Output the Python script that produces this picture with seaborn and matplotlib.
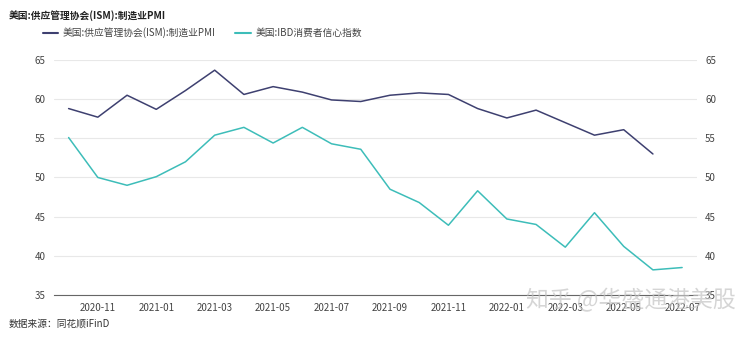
import matplotlib
matplotlib.use("Agg")
import matplotlib.pyplot as plt
import seaborn as sns
import pandas as pd

months = ["2020-10", "2020-11", "2020-12", "2021-01", "2021-02", "2021-03", "2021-04",
          "2021-05", "2021-06", "2021-07", "2021-08", "2021-09", "2021-10", "2021-11",
          "2021-12", "2022-01", "2022-02", "2022-03", "2022-04", "2022-05", "2022-06",
          "2022-07"]
pmi = [58.8, 57.7, 60.5, 58.7, 61.1, 63.7, 60.6, 61.6, 60.9, 59.9, 59.7, 60.5,
       60.8, 60.6, 58.8, 57.6, 58.6, 57.0, 55.4, 56.1, 53.0, None]
ibd = [55.1, 50.0, 49.0, 50.1, 52.0, 55.4, 56.4, 54.4, 56.4, 54.3, 53.6, 48.5,
       46.8, 43.9, 48.3, 44.7, 44.0, 41.1, 45.5, 41.2, 38.2, 38.5]
y_ticks = [35, 40, 45, 50, 55, 60, 65]

name_pmi = "美国:供应管理协会(ISM):制造业PMI"
name_ibd = "美国:IBD消费者信心指数"
title = "美国:供应管理协会(ISM):制造业PMI"
source = "数据来源：同花顺iFinD"
watermark = "知乎 @华盛通港美股"

df = pd.DataFrame({"idx": range(len(months)), "month": months,
                   name_pmi: pmi, name_ibd: ibd})
long = df.melt(id_vars=["idx", "month"], value_vars=[name_pmi, name_ibd],
               var_name="series", value_name="value").dropna()

sns.set_theme(style="white")
plt.rcParams['font.family'] = ['Noto Sans CJK SC', 'DejaVu Sans']

fig = plt.figure(figsize=(7.5, 3.39), dpi=100)
ax = fig.add_axes([0.072, 0.13, 0.857, 0.693])

palette = {name_pmi: "#3e4070", name_ibd: "#3dbdb9"}
sns.lineplot(data=long, x="idx", y="value", hue="series", palette=palette,
             linewidth=1.1, ax=ax, legend=False, sort=True)

ax.set_xlim(-0.5, len(months) - 0.5)
ax.set_ylim(35, 65)
ax.set_yticks(y_ticks)
ax.set_yticklabels([str(v) for v in y_ticks])
xt = list(range(1, len(months), 2))
ax.set_xticks(xt)
ax.set_xticklabels([months[i] for i in xt])
ax.set_xlabel("")
ax.set_ylabel("")
for s in ["top", "left", "right"]:
    ax.spines[s].set_visible(False)
ax.spines["bottom"].set_color("#666666")
ax.spines["bottom"].set_linewidth(0.8)
ax.grid(axis="y", color="#e8e8e8", linewidth=0.8)
ax.grid(axis="x", visible=False)
ax.tick_params(axis="both", length=0, labelsize=7, colors="#444444", pad=6)
ax.tick_params(axis="y", labelright=True, labelleft=True)

fig.text(0.011, 0.955, title, fontsize=7, fontweight="bold", color="#222222",
         va="center", ha="left")
from matplotlib.lines import Line2D
handles = [Line2D([], [], color=palette[name_pmi], lw=1.5),
           Line2D([], [], color=palette[name_ibd], lw=1.5)]
fig.legend(handles, [name_pmi, name_ibd], loc="center left",
           bbox_to_anchor=(0.045, 0.903), ncol=2, frameon=False, fontsize=7,
           handlelength=1.6, handletextpad=0.5, columnspacing=2.0,
           labelcolor="#444444")
fig.text(0.011, 0.045, source, fontsize=7, color="#333333", va="center", ha="left")
fig.text(0.702, 0.115, watermark, fontsize=16.5, color="#c4c4c4", alpha=0.7,
         va="center", ha="left")

fig.savefig("out.png", dpi=100, facecolor="white")
